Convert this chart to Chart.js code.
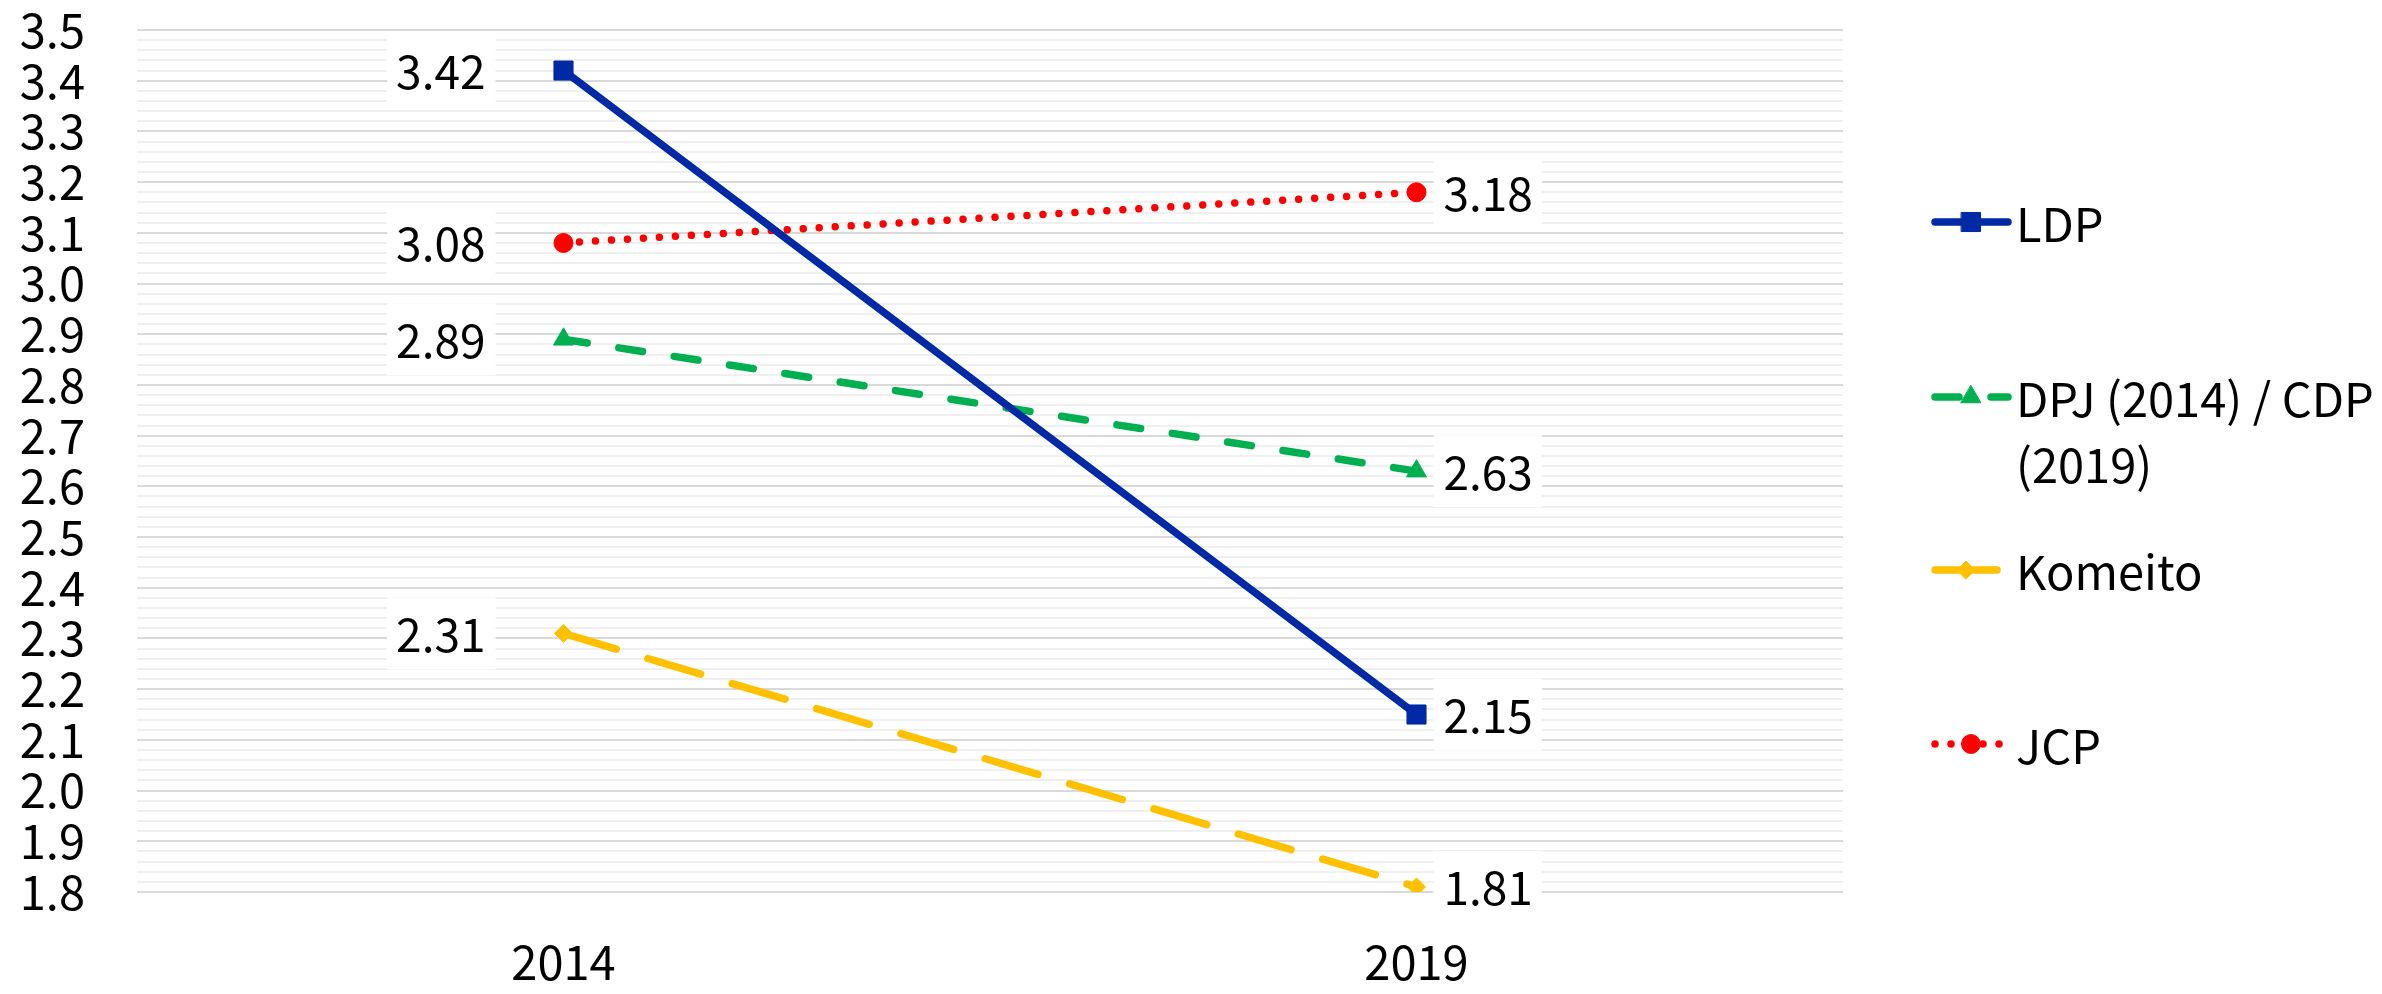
<!DOCTYPE html>
<html><head><meta charset="utf-8">
<script src="https://cdn.jsdelivr.net/npm/chart.js@4"></script>
<style>html,body{margin:0;padding:0;background:#fff;overflow:hidden}#wrap{width:2382px;height:994px;position:relative}</style>
</head><body><div id="wrap"><canvas id="c" width="2382" height="994"></canvas></div>
<script>
// ---- data ----
const years = ['2014', '2019'];
const ldp = [3.42, 2.15];
const dpjCdp = [2.89, 2.63];
const komeito = [2.31, 1.81];
const jcp = [3.08, 3.18];
const legendLines = [['LDP'], ['DPJ (2014) / CDP', '(2019)'], ['Komeito'], ['JCP']];
const yMin = 1.8, yMax = 3.5, yMinorStep = 0.02;

const FONT = '"Noto Sans CJK JP", "Noto Sans", sans-serif';

const datasets = [
  {label: 'LDP', data: ldp, borderColor: '#0029A6', borderWidth: 7.5,
   borderDash: [], pointStyle: 'rect', pointRadius: 13.5},
  {label: 'DPJ (2014) / CDP (2019)', data: dpjCdp, borderColor: '#00B050', borderWidth: 7.5,
   borderDash: [24, 32], pointStyle: 'triangle', pointRadius: 11.5},
  {label: 'Komeito', data: komeito, borderColor: '#FFC000', borderWidth: 7.5,
   borderDash: [55, 33], pointStyle: 'rectRot', pointRadius: 9},
  {label: 'JCP', data: jcp, borderColor: '#FF0000', borderWidth: 7.5,
   borderDash: [0.01, 16], pointStyle: 'circle', pointRadius: 9.5}
].map(d => Object.assign(d, {backgroundColor: d.borderColor, borderCapStyle: 'round', pointBorderWidth: 1,
  pointBorderColor: d.borderColor, pointBackgroundColor: d.borderColor, tension: 0, fill: false}));

const isMajor = v => Math.round(v * 50) % 5 === 0;

const labelPlugin = {
  id: 'valueLabels',
  afterDatasetsDraw(chart) {
    const ctx = chart.ctx;
    ctx.save();
    ctx.font = '46px ' + FONT;
    ctx.textBaseline = 'middle';
    ctx.textAlign = 'left';
    chart.data.datasets.forEach((ds, di) => {
      const meta = chart.getDatasetMeta(di);
      meta.data.forEach((pt, i) => {
        const txt = ds.data[i].toFixed(2);
        const w = ctx.measureText(txt).width;
        const padX = 9, boxH = 72;
        let bx, tx;
        if (i === 0) { tx = pt.x - 78 - w; bx = tx - padX; }
        else { bx = pt.x + 17; tx = bx + padX + 1; }
        ctx.fillStyle = '#ffffff';
        ctx.fillRect(bx, pt.y - boxH / 2, w + 2 * padX + 1, boxH);
        ctx.fillStyle = '#000000';
        ctx.fillText(txt, tx, pt.y + 1);
      });
    });
    ctx.restore();
  }
};

const legendPlugin = {
  id: 'sideLegend',
  afterDraw(chart) {
    const ctx = chart.ctx;
    const ys = [222, 397, 570, 744];
    const ends = [2008, 2008, 1997, 2008];
    const x0 = 1935, tx = 2016, lh = 66;
    ctx.save();
    chart.data.datasets.forEach((ds, i) => {
      const y = ys[i];
      const x1 = ends[i];
      ctx.save();
      ctx.strokeStyle = ds.borderColor;
      ctx.lineWidth = ds.borderWidth;
      ctx.lineCap = 'round';
      ctx.setLineDash(i === 2 ? [] : (ds.borderDash || []));
      ctx.beginPath(); ctx.moveTo(x0, y); ctx.lineTo(x1, y); ctx.stroke();
      ctx.setLineDash([]);
      ctx.fillStyle = ds.borderColor;
      ctx.strokeStyle = ds.borderColor;
      ctx.lineWidth = 1;
      Chart.helpers.drawPoint(ctx, {pointStyle: ds.pointStyle, radius: ds.pointRadius, rotation: 0, borderWidth: 1},
        (i === 2 ? 1966 : 1971), y);
      ctx.restore();
      ctx.fillStyle = '#000';
      ctx.font = '47px ' + FONT;
      ctx.textAlign = 'left';
      ctx.textBaseline = 'middle';
      legendLines[i].forEach((line, k) => ctx.fillText(line, tx, y + 2 + k * lh));
    });
    ctx.restore();
  }
};

new Chart(document.getElementById('c'), {
  type: 'line',
  data: {labels: years, datasets},
  options: {
    responsive: false, animation: false, devicePixelRatio: 1,
    layout: {padding: {top: 30, right: 539, bottom: 0, left: 0}},
    plugins: {legend: {display: false}, tooltip: {enabled: false}},
    scales: {
      x: {
        type: 'category', offset: true,
        grid: {display: false, drawTicks: false},
        border: {display: false},
        ticks: {color: '#000', font: {family: FONT, size: 47}, padding: 42, maxRotation: 0},
        afterFit: s => { s.height = 102; s.paddingLeft = 0; s.paddingRight = 0; }
      },
      y: {
        min: yMin, max: yMax,
        grid: {drawTicks: false, lineWidth: 2,
               color: c => (c.tick && isMajor(c.tick.value)) ? '#d9d9d9' : '#f0f0f0'},
        border: {display: false},
        ticks: {stepSize: yMinorStep, maxTicksLimit: 1000, autoSkip: false, color: '#000',
                font: {family: FONT, size: 47}, padding: 52,
                callback: v => isMajor(v) ? (Math.round(v * 10) / 10).toFixed(1) : ''},
        afterFit: s => { s.width = 137; s.paddingTop = 0; s.paddingBottom = 0; }
      }
    }
  },
  plugins: [labelPlugin, legendPlugin]
});
</script></body></html>
